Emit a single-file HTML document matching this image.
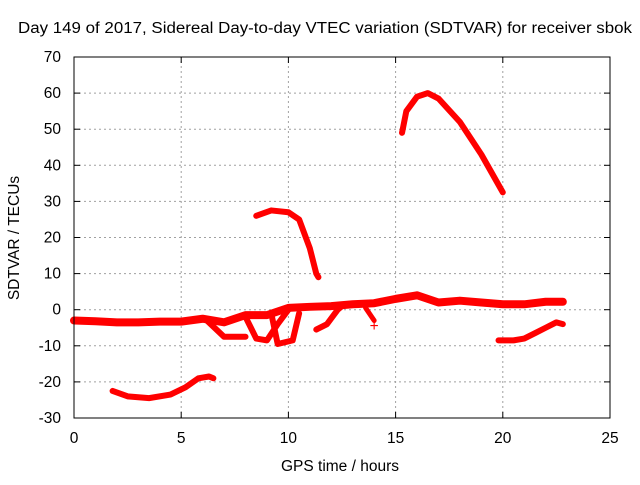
<!DOCTYPE html>
<html><head><meta charset="utf-8"><style>
body{margin:0;background:#fff}
svg text{font-family:"Liberation Sans",sans-serif;font-size:15.5px;fill:#000}
</style></head><body>
<svg id="c" width="640" height="480" viewBox="0 0 640 480">
<text x="18" y="33" textLength="614" lengthAdjust="spacingAndGlyphs">Day 149 of 2017, Sidereal Day-to-day VTEC variation (SDTVAR) for receiver sbok</text>
<text x="340" y="471" text-anchor="middle">GPS time / hours</text>
<text transform="translate(19,238) rotate(-90)" text-anchor="middle">SDTVAR / TECUs</text>
<g id="grid"></g><g id="marks"></g><g id="axes"></g>
</svg>
<script>
const xTicks=[0,5,10,15,20,25];
const yTicks=[-30,-20,-10,0,10,20,30,40,50,60,70];
const mainBand=[[0,-3],[1,-3.2],[2,-3.5],[3,-3.5],[4,-3.3],[5,-3.3],[6,-2.5],[7,-3.5],[8,-1.5],[9,-1.5],[10,0.5],[11,0.8],[12,1],[13,1.5],[14,1.8],[15,3],[16,4],[17,2],[18,2.5],[19,2],[20,1.5],[21,1.5],[22,2.2],[22.8,2.2]];
const loopA=[[6.2,-3],[7,-7.5],[8,-7.5]];
const loopB=[[8,-2],[8.5,-8],[9,-8.5],[9.5,-4],[10,0]];
const loopC=[[9.2,-1],[9.5,-9.5],[10.2,-8.5],[10.5,-1]];
const loopD=[[11.3,-5.5],[11.8,-4],[12.3,0],[12.5,1]];
const loopE=[[13.6,0.5],[14,-3]];
const lowArc=[[1.8,-22.5],[2.5,-24],[3.5,-24.5],[4.5,-23.5],[5.2,-21.5],[5.8,-19],[6.3,-18.5],[6.5,-19]];
const midArc=[[8.5,26],[9.2,27.5],[10,27],[10.5,25],[11,17],[11.3,10],[11.4,9]];
const highArc=[[15.3,49],[15.5,55],[16,59],[16.5,60],[17,58.5],[18,52],[19,43],[20,32.5]];
const lateArc=[[19.8,-8.5],[20.5,-8.5],[21,-8],[21.5,-6.5],[22,-5],[22.5,-3.5],[22.8,-4]];
const stray=[[14,-4.5]];
const X0=74,X1=610,Y0=418,Y1=57;
const sx=v=>X0+(v-0)/25*(X1-X0);
const sy=v=>Y0-(v+30)/100*(Y0-Y1);
const NS="http://www.w3.org/2000/svg";
function mk(t,a,p){const e=document.createElementNS(NS,t);for(const k in a)e.setAttribute(k,a[k]);p.appendChild(e);return e;}
const grid=document.getElementById('grid'),axes=document.getElementById('axes'),marks=document.getElementById('marks');
xTicks.forEach(t=>{
 if(t>0&&t<25){const l=mk('line',{x1:sx(t),x2:sx(t),y1:Y0,y2:Y1,stroke:'#a0a0a0','stroke-dasharray':'2,3'},grid);
 
 }
 const tx=mk('text',{x:sx(t),y:Y0+25,'text-anchor':'middle'},axes);tx.textContent=t;
 
 
 mk('line',{x1:sx(t),x2:sx(t),y1:Y0,y2:Y0-6,stroke:'#000'},axes);
 mk('line',{x1:sx(t),x2:sx(t),y1:Y1,y2:Y1+6,stroke:'#000'},axes);
});
yTicks.forEach(t=>{
 if(t>-30&&t<70){const l=mk('line',{x1:X0,x2:X1,y1:sy(t),y2:sy(t),stroke:'#a0a0a0','stroke-dasharray':'2,3'},grid);
 
 }
 const tx=mk('text',{x:X0-13,y:sy(t)+5,'text-anchor':'end'},axes);tx.textContent=t;
 
 
 mk('line',{x1:X0,x2:X0+6,y1:sy(t),y2:sy(t),stroke:'#000'},axes);
 mk('line',{x1:X1,x2:X1-6,y1:sy(t),y2:sy(t),stroke:'#000'},axes);
});
const fr=mk('rect',{x:X0,y:Y1,width:X1-X0,height:Y0-Y1,fill:'none',stroke:'#000'},axes);


function track(d,w,name){
 const p=mk('polyline',{points:d.map(q=>sx(q[0])+','+sy(q[1])).join(' '),fill:'none',stroke:'#ff0000','stroke-width':w,'stroke-linejoin':'round','stroke-linecap':'round'},marks);
 
 
}
track(mainBand,8,'main-band-series');
track(loopA,6,'loop-a-series');
track(loopB,6,'loop-b-series');
track(loopC,6,'loop-c-series');
track(loopD,6,'loop-d-series');
track(loopE,5,'loop-e-series');
track(lowArc,6,'low-arc-series');
track(midArc,6,'mid-arc-series');
track(highArc,6,'high-arc-series');
track(lateArc,6,'late-arc-series');
stray.forEach(q=>{
 const t=mk('text',{x:sx(q[0]),y:sy(q[1])+5,'text-anchor':'middle',style:'fill:#ff0000'},marks);t.textContent='+';
 
 
});
</script>
</body></html>
